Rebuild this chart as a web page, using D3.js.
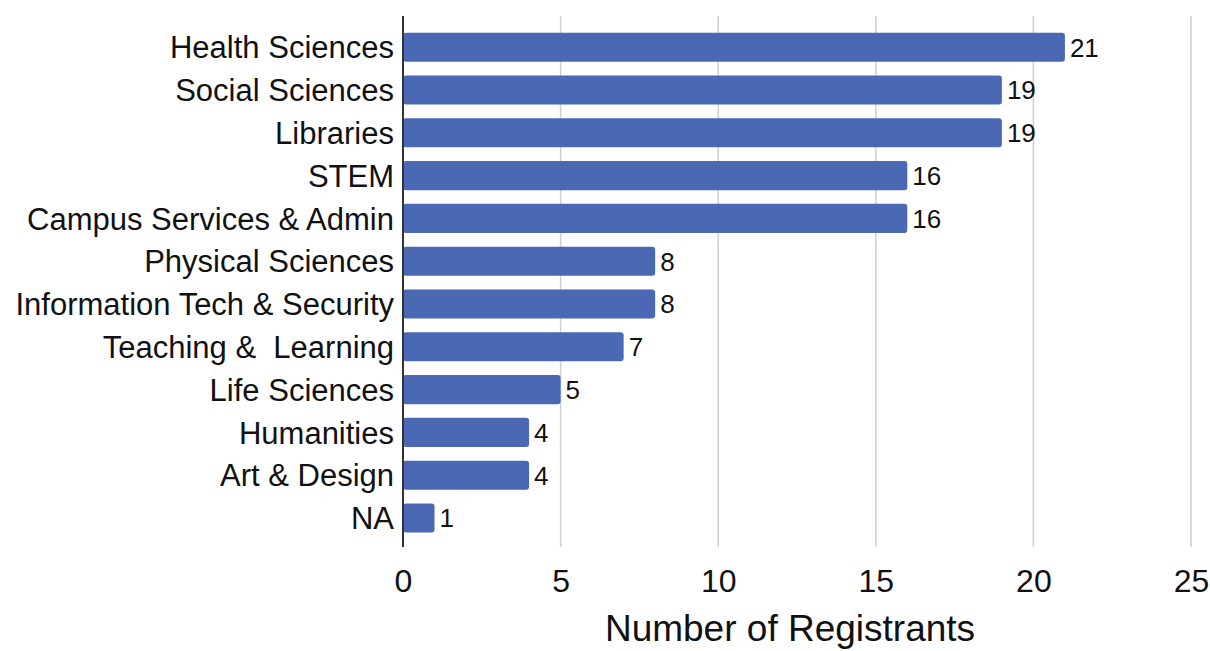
<!DOCTYPE html>
<html>
<head>
<meta charset="utf-8">
<script src="https://cdn.jsdelivr.net/npm/d3@7"></script>
<style>
  html, body { margin: 0; padding: 0; background: #ffffff; }
  svg { display: block; font-family: "Liberation Sans", Arial, Helvetica, sans-serif; }
</style>
</head>
<body>
<svg id="chart" width="1210" height="651"></svg>
<script>
// Registrants by area
const categories = [
  "Health Sciences",
  "Social Sciences",
  "Libraries",
  "STEM",
  "Campus Services & Admin",
  "Physical Sciences",
  "Information Tech & Security",
  "Teaching &  Learning",
  "Life Sciences",
  "Humanities",
  "Art & Design",
  "NA"
];
const registrants = [21, 19, 19, 16, 16, 8, 8, 7, 5, 4, 4, 1];
const xTicks = [0, 5, 10, 15, 20, 25];
const xTitle = "Number of Registrants";

const data = categories.map((c, i) => ({ category: c, value: registrants[i] }));

const svg = d3.select("#chart");
const plotLeft = 403, plotRight = 1191;
const plotTop = 16, plotBottom = 547;

const x = d3.scaleLinear().domain([0, 25]).range([plotLeft, plotRight]);
const y = d3.scaleBand()
  .domain(categories)
  .range([25.8, 539.4])
  .paddingInner(0.32)
  .paddingOuter(0.16);

// vertical gridlines
svg.append("g")
  .selectAll("line")
  .data(xTicks.filter(d => d > 0))
  .join("line")
  .attr("x1", d => x(d)).attr("x2", d => x(d))
  .attr("y1", plotTop).attr("y2", plotBottom)
  .attr("stroke", "#cfcfcf")
  .attr("stroke-width", 1.5);

// bars
svg.append("g")
  .selectAll("rect")
  .data(data)
  .join("rect")
  .attr("x", x(0))
  .attr("y", d => y(d.category))
  .attr("width", d => x(d.value) - x(0))
  .attr("height", y.bandwidth())
  .attr("rx", 3)
  .attr("fill", "#4a68b4");

// value labels
svg.append("g")
  .selectAll("text")
  .data(data)
  .join("text")
  .attr("x", d => x(d.value) + 5)
  .attr("y", d => y(d.category) + y.bandwidth() / 2)
  .attr("dy", "0.36em")
  .attr("font-size", 26)
  .attr("fill", "#111")
  .text(d => d.value);

// category axis
const yAxis = svg.append("g")
  .attr("transform", `translate(${plotLeft},0)`)
  .call(d3.axisLeft(y).tickSize(0).tickPadding(9));
yAxis.select(".domain").remove();
yAxis.selectAll("text")
  .attr("font-size", 31)
  .attr("font-family", "'Liberation Sans', Arial, sans-serif")
  .attr("fill", "#111")
  .attr("dy", "0.36em")
  .style("white-space", "pre");

// axis line
svg.append("line")
  .attr("x1", plotLeft).attr("x2", plotLeft)
  .attr("y1", plotTop).attr("y2", plotBottom)
  .attr("stroke", "#333")
  .attr("stroke-width", 2);

// value axis
const xAxis = svg.append("g")
  .attr("transform", `translate(0,${plotBottom})`)
  .call(d3.axisBottom(x).tickValues(xTicks).tickSize(0).tickPadding(0));
xAxis.select(".domain").remove();
xAxis.selectAll("text")
  .attr("font-size", 32)
  .attr("font-family", "'Liberation Sans', Arial, sans-serif")
  .attr("fill", "#111")
  .attr("dy", null)
  .attr("y", 45);

// axis title
svg.append("text")
  .attr("x", 790)
  .attr("y", 641)
  .attr("text-anchor", "middle")
  .attr("font-size", 37)
  .attr("fill", "#111")
  .text(xTitle);
</script>
</body>
</html>
